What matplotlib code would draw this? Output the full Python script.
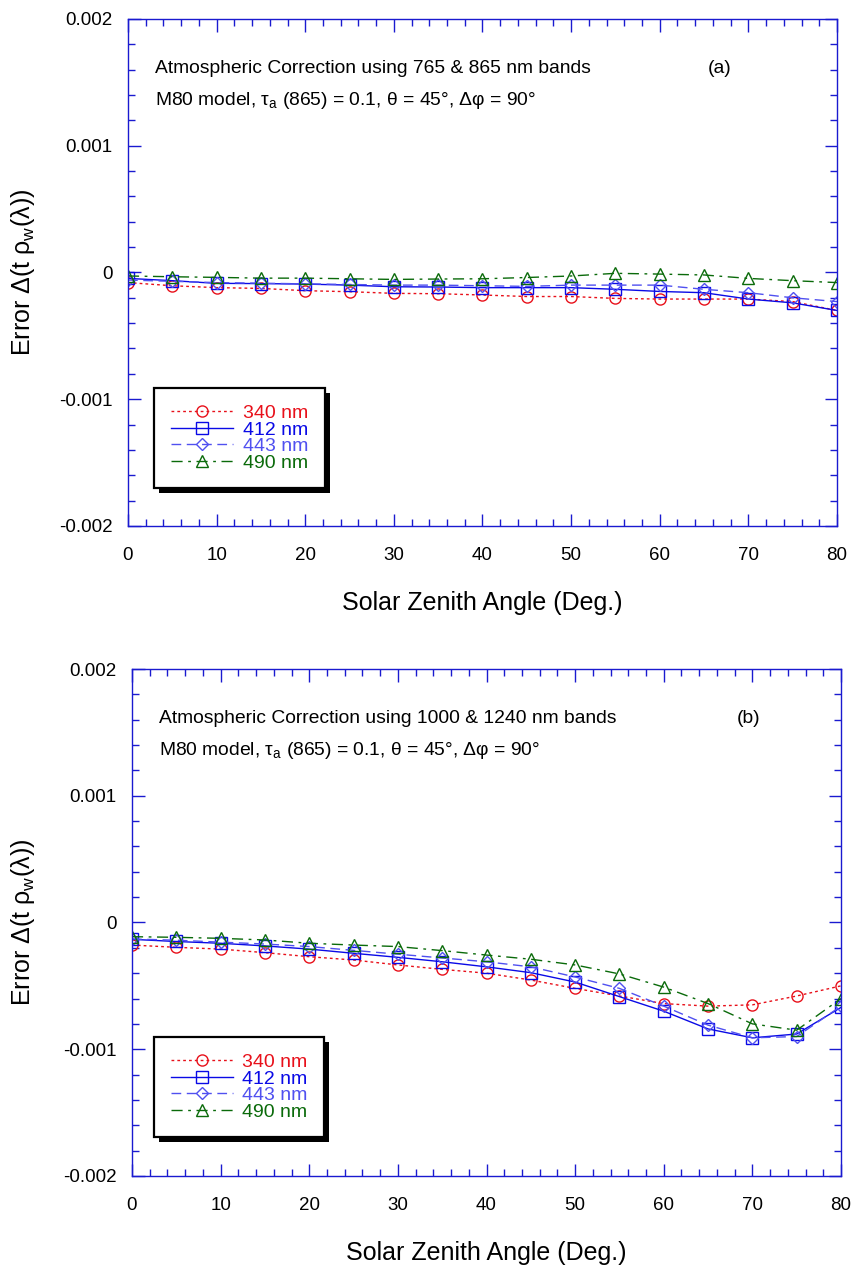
import matplotlib
matplotlib.use("Agg")
import matplotlib.pyplot as plt
from matplotlib.patches import Rectangle
from matplotlib.transforms import IdentityTransform
from matplotlib.ticker import MultipleLocator, FixedLocator, FixedFormatter

plt.rcParams['font.family'] = ['Liberation Sans', 'DejaVu Sans']
plt.rcParams['mathtext.fontset'] = 'custom'
plt.rcParams['mathtext.rm'] = 'Liberation Sans'
plt.rcParams['mathtext.it'] = 'Liberation Sans:italic'

angles = [0, 5, 10, 15, 20, 25, 30, 35, 40, 45, 50, 55, 60, 65, 70, 75, 80]
bands = ["340 nm", "412 nm", "443 nm", "490 nm"]

# Panel (a): 765 & 865 nm bands
a_340 = [-0.00008, -0.000105, -0.00012, -0.000126, -0.000144, -0.000152, -0.000165, -0.000168,
         -0.000178, -0.00019, -0.00019, -0.000205, -0.00021, -0.00021, -0.00021, -0.00023, -0.0003]
a_412 = [-0.000047, -0.000065, -0.000086, -0.000088, -0.000092, -0.0001, -0.000113, -0.000115,
         -0.00012, -0.00012, -0.00012, -0.000133, -0.00015, -0.00016, -0.00021, -0.00024, -0.0003]
a_443 = [-0.00006, -0.00007, -0.00008, -0.000085, -0.00009, -0.000095, -0.0001, -0.0001,
         -0.000105, -0.00011, -0.0001, -0.0001, -0.0001, -0.000133, -0.00016, -0.0002, -0.00023]
a_490 = [-0.000028, -0.000034, -0.000039, -0.000045, -0.000045, -0.00005, -0.000055, -0.000052,
         -0.00005, -0.00004, -0.000028, -0.000007, -0.000013, -0.00002, -0.000047, -0.000065, -0.00008]

# Panel (b): 1000 & 1240 nm bands
b_340 = [-0.000178, -0.000196, -0.00021, -0.000238, -0.00027, -0.000296, -0.000335, -0.00037,
         -0.0004, -0.000454, -0.00052, -0.00058, -0.00064, -0.00066, -0.00065, -0.00058, -0.0005]
b_412 = [-0.000133, -0.00015, -0.000164, -0.000185, -0.00021, -0.000243, -0.000275, -0.00031,
         -0.00035, -0.000396, -0.00047, -0.000585, -0.0007, -0.00084, -0.00091, -0.00088, -0.00067]
b_443 = [-0.00013, -0.00014, -0.000155, -0.00017, -0.00019, -0.00022, -0.00025, -0.00028,
         -0.00031, -0.00035, -0.00043, -0.00052, -0.00066, -0.00081, -0.00091, -0.0009, -0.00066]
b_490 = [-0.000112, -0.000117, -0.000125, -0.000138, -0.000164, -0.000178, -0.00019, -0.000222,
         -0.000257, -0.00029, -0.000335, -0.000406, -0.00051, -0.00064, -0.0008, -0.00085, -0.0006]

yticks = [-0.002, -0.001, 0.0, 0.001, 0.002]
ytick_labels = ["-0.002", "-0.001", "0", "0.001", "0.002"]
xticks = [0, 10, 20, 30, 40, 50, 60, 70, 80]

colors = ['#e8101a', '#0a0ae6', '#5050f0', '#0a6a0a']
styles = [(0, (2, 2.2)), '-', (0, (7, 4)), (0, (8, 4, 2, 4))]
markers = ['o', 's', 'D', '^']
msizes = [8, 8, 6.5, 8.5]
spine_color = '#1a1ad0'

fig = plt.figure(figsize=(8.56, 12.71), dpi=100)
ax_a = fig.add_axes([0.1495, 0.5862, 0.8283, 0.3989])
ax_b = fig.add_axes([0.1542, 0.0748, 0.8283, 0.3988])

panels = [
    (ax_a, [a_340, a_412, a_443, a_490], "Atmospheric Correction using 765 & 865 nm bands", "(a)", 0.818, 0.037, 0.272),
    (ax_b, [b_340, b_412, b_443, b_490], "Atmospheric Correction using 1000 & 1240 nm bands", "(b)", 0.853, 0.031, 0.274),
]

legends = []
for ax, series, title, tag, tagx, legx, legy in panels:
    for vals, lab, c, ls, m, ms in zip(series, bands, colors, styles, markers, msizes):
        ax.plot(angles, vals, color=c, linestyle=ls, linewidth=1.0, marker=m,
                markersize=ms, fillstyle='none', markeredgewidth=1.0, label=lab)
    ax.set_xlim(0, 80)
    ax.set_ylim(-0.002, 0.002)
    ax.xaxis.set_major_locator(FixedLocator(xticks))
    ax.xaxis.set_minor_locator(MultipleLocator(2))
    ax.yaxis.set_major_locator(FixedLocator(yticks))
    ax.yaxis.set_major_formatter(FixedFormatter(ytick_labels))
    ax.yaxis.set_minor_locator(MultipleLocator(0.0002))
    ax.tick_params(which='both', direction='in', top=True, right=True, color=spine_color)
    ax.tick_params(which='major', length=9, width=1, labelsize=13.5)
    ax.tick_params(which='minor', length=5, width=1)
    ax.tick_params(axis='x', which='major', pad=15)
    ax.tick_params(axis='y', which='major', pad=11)
    for sp in ax.spines.values():
        sp.set_color(spine_color)
        sp.set_linewidth(1.0)
    ax.set_xlabel("Solar Zenith Angle (Deg.)", fontsize=18)
    ax.xaxis.label.set_va('center')
    ax.xaxis.set_label_coords(0.5, -0.152)
    ax.set_ylabel(r"Error Δ(t ρ$_{\mathrm{w}}$(λ))", fontsize=18)
    ax.yaxis.label.set_va('center')
    ax.text(0.038, 0.903, title, transform=ax.transAxes, fontsize=13.9, va='center', ha='left')
    ax.text(tagx, 0.903, tag, transform=ax.transAxes, fontsize=13.9, va='center', ha='left')
    ax.text(0.038, 0.840, r"M80 model, τ$_{\mathrm{a}}$ (865) = 0.1, θ = 45°, Δφ = 90°",
            transform=ax.transAxes, fontsize=13.9, va='center', ha='left')
    leg = ax.legend(loc='upper left', bbox_to_anchor=(legx, legy), borderaxespad=0,
                    fontsize=14, handlelength=3.2, handletextpad=0.5, labelspacing=-0.06,
                    fancybox=False, framealpha=1, edgecolor='black', borderpad=0.85)
    leg.get_frame().set_linewidth(1.6)
    for t, c in zip(leg.get_texts(), colors):
        t.set_color(c)
    leg.set_zorder(6)
    legends.append((ax, leg))

ax_a.yaxis.set_label_coords(-0.148, 0.5)
ax_b.yaxis.set_label_coords(-0.154, 0.5)

fig.canvas.draw()
for ax, leg in legends:
    bb = leg.get_window_extent()
    r = Rectangle((bb.x0 + 5, bb.y0 - 5), bb.width, bb.height, transform=IdentityTransform(),
                  facecolor='black', edgecolor='none', zorder=5.5)
    ax.add_artist(r)

fig.savefig("out.png", dpi=100)
